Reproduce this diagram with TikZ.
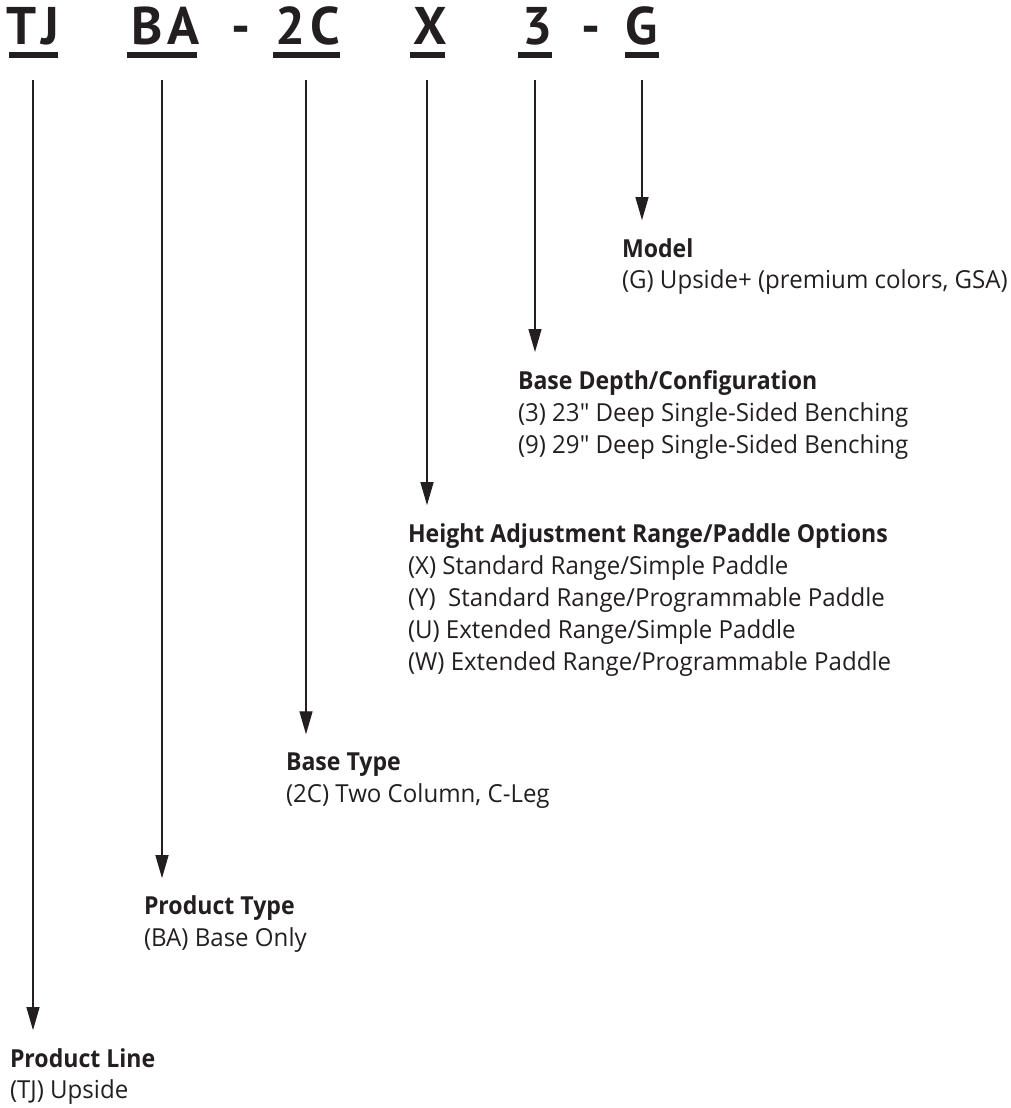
\documentclass[tikz,border=0pt]{standalone}
\usepackage{fontspec}
\usetikzlibrary{arrows.meta,calc}
\setmainfont{Open Sans}[FakeStretch=0.97,Ligatures=TeXOff]
\IfFontExistsTF{Open Sans SemiBold}
  {\newfontfamily\semi{Open Sans SemiBold}[FakeStretch=0.93]}
  {\newfontfamily\semiX{Open Sans}[FakeStretch=0.93]\def\semi{\semiX\bfseries}}
\newfontfamily\hsemiX{PT Sans}
\def\hsemi{\hsemiX\bfseries}
\definecolor{ink}{RGB}{35,31,32}
\newcommand\hdrfont{\fontsize{53}{53}\selectfont\hsemi\addfontfeature{LetterSpace=9}}
\newcommand\ttlfont{\fontsize{24.8}{30}\selectfont\semi}
\newcommand\txtfont{\fontsize{24.8}{30}\selectfont}
\begin{document}
\begin{tikzpicture}[x=1pt,y=-1pt,
  every node/.style={inner sep=0pt,outer sep=0pt,text=ink},
  code/.style={anchor=base,font=\hdrfont},
  uline/.style={fill=ink,draw=none,minimum width=#1,minimum height=5.5pt,inner sep=0pt},
  ttl/.style={anchor=base west,font=\ttlfont},
  txt/.style={anchor=base west,font=\txtfont},
  arr/.style={draw=ink,line width=1.3pt,-{Triangle[length=23pt,width=13pt]}}]
\useasboundingbox (0,0) rectangle (1010,1108);
% header codes
\node[code] (cTJ) at (33,45) {TJ};
\node[code] (cBA) at (166,45) {BA};
\node[code] (d1)  at (241,45) {-};
\node[code] (c2C) at (308,45) {2C};
\node[code] (cX)  at (430,45) {X};
\node[code] (c3)  at (538,45) {3};
\node[code] (d2)  at (591,45) {-};
\node[code] (cG)  at (642,45) {G};
% underlines
\node[uline=49pt] (uTJ) at (33,55) {};
\node[uline=70pt] (uBA) at (162,55) {};
\node[uline=67pt] (u2C) at (306,55) {};
\node[uline=35pt] (uX)  at (427,55) {};
\node[uline=34pt] (u3)  at (535,55) {};
\node[uline=34pt] (uG)  at (642,55) {};
% labels
\node[ttl] (tTJ) at (10,1067) {Product Line};
\node[txt] (lTJ) at (10,1098) {(TJ) Upside};
\node[ttl] (tBA) at (144,914) {Product Type};
\node[txt] (lBA) at (144,946) {(BA) Base Only};
\node[ttl] (t2C) at (286,770) {Base Type};
\node[txt] (l2C) at (286,802) {(2C) Two Column, C-Leg};
\node[ttl] (tX)  at (408,542) {Height Adjustment Range/Paddle Options};
\node[txt] (lX1) at (408,574) {(X) Standard Range/Simple Paddle};
\node[txt] (lX2) at (408,606) {(Y)\ \ Standard Range/Programmable Paddle};
\node[txt] (lX3) at (408,638) {(U) Extended Range/Simple Paddle};
\node[txt] (lX4) at (408,670) {(W) Extended Range/Programmable Paddle};
\node[ttl] (t3)  at (518,389) {Base Depth/Configuration};
\node[txt] (l31) at (518,421) {(3) 23" Deep Single-Sided Benching};
\node[txt] (l32) at (518,453) {(9) 29" Deep Single-Sided Benching};
\node[ttl] (tG)  at (622,257) {Model};
\node[txt] (lG)  at (622,288) {(G) Upside+ (premium colors, GSA)};
% connectors
\draw[arr] ($(uTJ.south)+(0,22.25)$) -- ($(uTJ.south |- tTJ.north)+(0,-18)$);
\draw[arr] ($(uBA.south)+(0,22.25)$) -- ($(uBA.south |- tBA.north)+(0,-17)$);
\draw[arr] ($(u2C.south)+(0,22.25)$) -- ($(u2C.south |- t2C.north)+(0,-18)$);
\draw[arr] ($(uX.south)+(0,22.25)$)  -- ($(uX.south |- tX.north)+(0,-18)$);
\draw[arr] ($(u3.south)+(0,22.25)$)  -- ($(u3.south |- t3.north)+(0,-18)$);
\draw[arr] ($(uG.south)+(0,22.25)$)  -- ($(uG.south |- tG.north)+(0,-18)$);
\end{tikzpicture}
\end{document}
